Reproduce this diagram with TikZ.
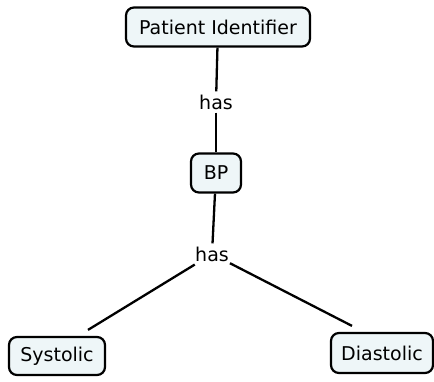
\documentclass[tikz,border=0pt]{standalone}
\usepackage{fontspec}
\setmainfont{DejaVu Sans}
\definecolor{boxfill}{RGB}{238,246,248}
\tikzset{
  concept/.style={draw=black, line width=2.2pt, rounded corners=8pt, fill=boxfill,
    inner sep=0pt, align=center, font=\fontsize{19}{21}\selectfont},
  linklabel/.style={inner xsep=1pt, inner ysep=3pt, font=\fontsize{19}{21}\selectfont},
  conn/.style={line width=2.3pt, black}
}
\begin{document}
\begin{tikzpicture}[x=1pt,y=1pt]
\useasboundingbox (0,0) rectangle (434,381);
\node[concept, minimum width=184pt, minimum height=39pt] (pid) at (218,354) {Patient Identifier};
\node[linklabel] (has1) at (216,279) {has};
\node[concept, minimum width=50pt, minimum height=39pt] (bp) at (216,208) {BP};
\node[linklabel] (has2) at (212,127) {has};
\node[concept, minimum width=96pt, minimum height=38pt] (sys) at (57,25) {Systolic};
\node[concept, minimum width=102pt, minimum height=40pt] (dia) at (382,28) {Diastolic};
\draw[conn] (pid) -- (has1);
\draw[conn] (has1) -- (bp);
\draw[conn] (bp) -- (has2);
\draw[conn] (has2) -- ([xshift=31pt,yshift=6pt]sys.north);
\draw[conn] (has2) -- ([xshift=-30pt,yshift=6pt]dia.north);
\end{tikzpicture}
\end{document}
